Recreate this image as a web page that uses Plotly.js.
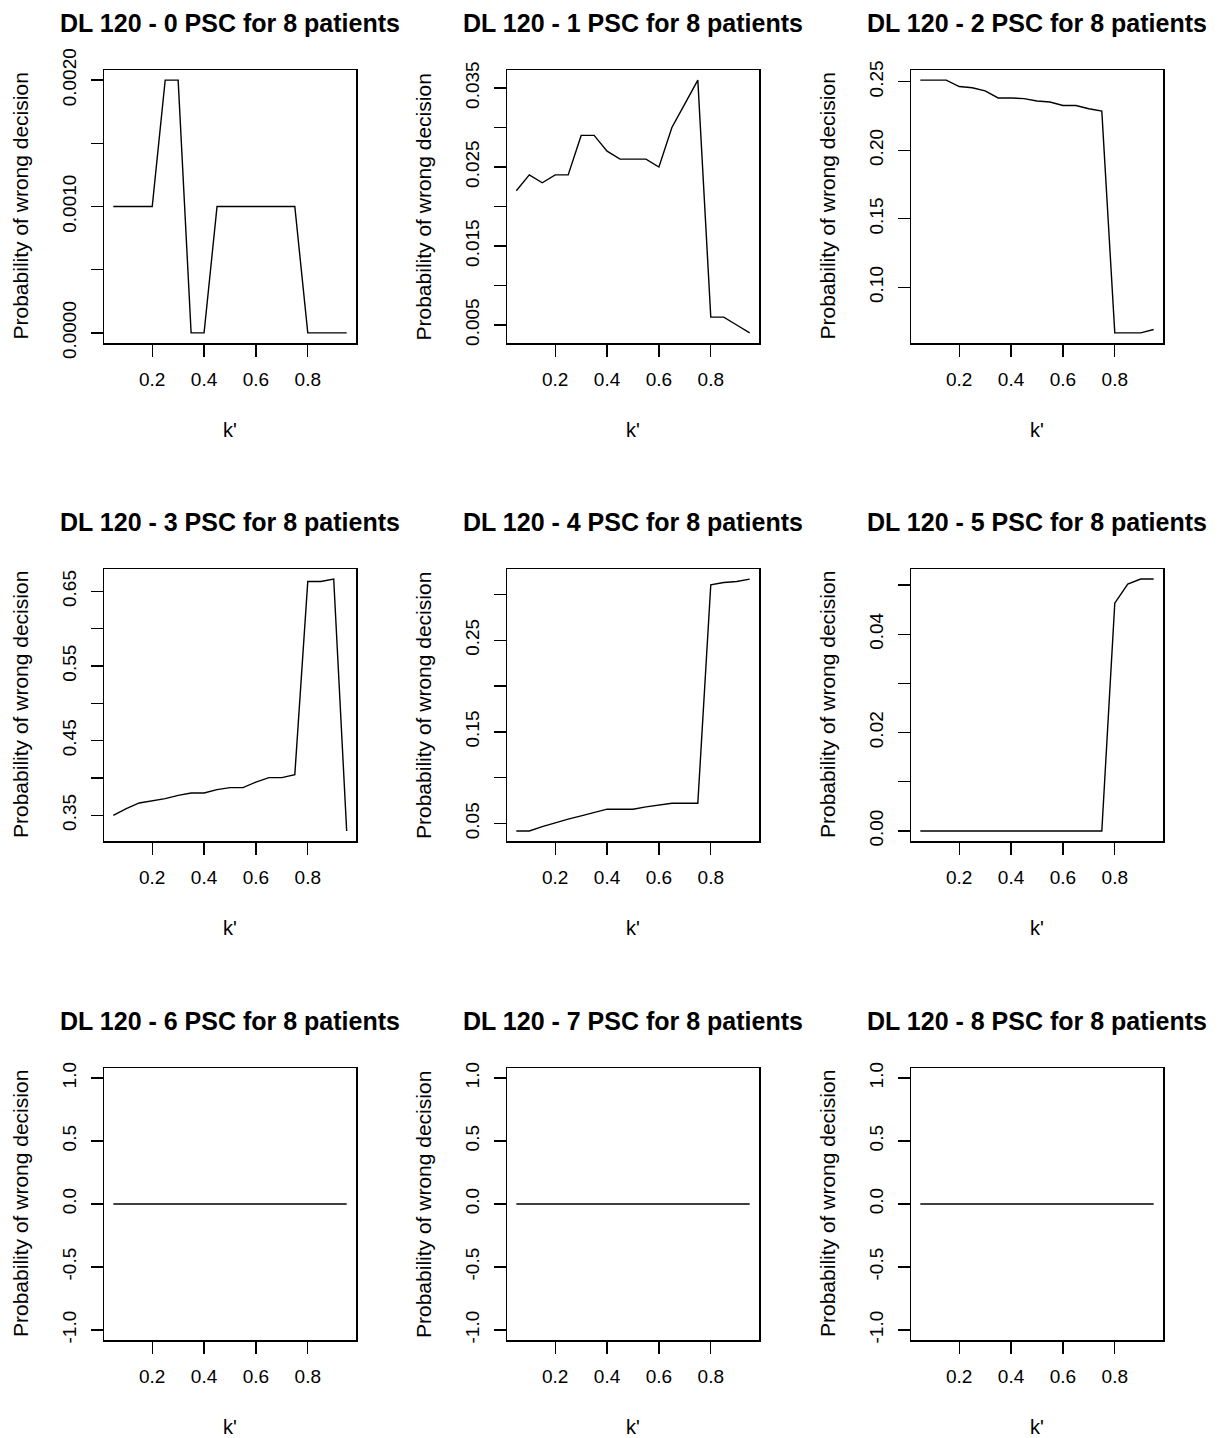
<!DOCTYPE html>
<html>
<head>
<meta charset="utf-8">
<script src="https://cdn.plot.ly/plotly-3.0.1.min.js"></script>
<style>
  html, body { margin: 0; padding: 0; background: #ffffff; }
  #chart { width: 1226px; height: 1438px; }
</style>
</head>
<body>
<div id="chart"></div>
<script>
// ---------------- data ----------------
const kValues = [0.05, 0.10, 0.15, 0.20, 0.25, 0.30, 0.35, 0.40, 0.45, 0.50,
                 0.55, 0.60, 0.65, 0.70, 0.75, 0.80, 0.85, 0.90, 0.95];

const psc0 = [0.001, 0.001, 0.001, 0.001, 0.002, 0.002, 0.000, 0.000, 0.001, 0.001,
              0.001, 0.001, 0.001, 0.001, 0.001, 0.000, 0.000, 0.000, 0.000];
const psc1 = [0.022, 0.024, 0.023, 0.024, 0.024, 0.029, 0.029, 0.027, 0.026, 0.026,
              0.026, 0.025, 0.030, 0.033, 0.036, 0.006, 0.006, 0.005, 0.004];
const psc2 = [0.2512, 0.2512, 0.2512, 0.2465, 0.2456, 0.2434, 0.2382, 0.2382, 0.2377, 0.2360,
              0.2352, 0.2327, 0.2327, 0.2303, 0.2286, 0.0668, 0.0668, 0.0668, 0.0693];
const psc3 = [0.350, 0.359, 0.3665, 0.3692, 0.3723, 0.3767, 0.3798, 0.3798, 0.3843, 0.387,
              0.387, 0.3945, 0.4004, 0.4004, 0.4044, 0.6633, 0.6633, 0.6665, 0.329];
const psc4 = [0.042, 0.042, 0.0467, 0.0511, 0.0548, 0.0584, 0.062, 0.0657, 0.0657, 0.0657,
              0.0682, 0.070, 0.0722, 0.0722, 0.0722, 0.3104, 0.3129, 0.314, 0.3166];
const psc5 = [0, 0, 0, 0, 0, 0, 0, 0, 0, 0,
              0, 0, 0, 0, 0, 0.0463, 0.0502, 0.0512, 0.0512];
const psc6 = [0, 0, 0, 0, 0, 0, 0, 0, 0, 0, 0, 0, 0, 0, 0, 0, 0, 0, 0];
const psc7 = [0, 0, 0, 0, 0, 0, 0, 0, 0, 0, 0, 0, 0, 0, 0, 0, 0, 0, 0];
const psc8 = [0, 0, 0, 0, 0, 0, 0, 0, 0, 0, 0, 0, 0, 0, 0, 0, 0, 0, 0];

const panelTitles = [
  "DL 120 - 0 PSC for 8 patients", "DL 120 - 1 PSC for 8 patients", "DL 120 - 2 PSC for 8 patients",
  "DL 120 - 3 PSC for 8 patients", "DL 120 - 4 PSC for 8 patients", "DL 120 - 5 PSC for 8 patients",
  "DL 120 - 6 PSC for 8 patients", "DL 120 - 7 PSC for 8 patients", "DL 120 - 8 PSC for 8 patients"
];
const xAxisLabel = "k'";
const yAxisLabel = "Probability of wrong decision";

const xTickVals = [0.2, 0.4, 0.6, 0.8];
const xTickText = ["0.2", "0.4", "0.6", "0.8"];

const yTickVals0 = [0, 0.0005, 0.001, 0.0015, 0.002];
const yTickText0 = ["0.0000", "", "0.0010", "", "0.0020"];
const yTickVals1 = [0.005, 0.010, 0.015, 0.020, 0.025, 0.030, 0.035];
const yTickText1 = ["0.005", "", "0.015", "", "0.025", "", "0.035"];
const yTickVals2 = [0.10, 0.15, 0.20, 0.25];
const yTickText2 = ["0.10", "0.15", "0.20", "0.25"];
const yTickVals3 = [0.35, 0.40, 0.45, 0.50, 0.55, 0.60, 0.65];
const yTickText3 = ["0.35", "", "0.45", "", "0.55", "", "0.65"];
const yTickVals4 = [0.05, 0.10, 0.15, 0.20, 0.25, 0.30];
const yTickText4 = ["0.05", "", "0.15", "", "0.25", ""];
const yTickVals5 = [0.00, 0.01, 0.02, 0.03, 0.04, 0.05];
const yTickText5 = ["0.00", "", "0.02", "", "0.04", ""];
const yTickValsFlat = [-1.0, -0.5, 0.0, 0.5, 1.0];
const yTickTextFlat = ["-1.0", "-0.5", "0.0", "0.5", "1.0"];

// ---------------- layout helpers ----------------
const series = [psc0, psc1, psc2, psc3, psc4, psc5, psc6, psc7, psc8];
const yTicks = [
  [yTickVals0, yTickText0], [yTickVals1, yTickText1], [yTickVals2, yTickText2],
  [yTickVals3, yTickText3], [yTickVals4, yTickText4], [yTickVals5, yTickText5],
  [yTickValsFlat, yTickTextFlat], [yTickValsFlat, yTickTextFlat], [yTickValsFlat, yTickTextFlat]
];

const W = 1226, H = 1438;
const colPx = [[104, 356], [507, 759], [911, 1163]];
const rowPx = [[70, 343], [569, 841], [1068, 1340]];

function rRange(vals) {
  let lo = Math.min(...vals), hi = Math.max(...vals);
  if (lo === hi) { lo = lo - 1; hi = hi + 1; }
  const d = (hi - lo) * 0.04;
  return [lo - d, hi + d];
}

const FONT = "Liberation Sans, Arial, Helvetica, sans-serif";
const traces = [];
const layout = {
  width: W, height: H,
  margin: {l: 0, r: 0, t: 0, b: 0},
  paper_bgcolor: "#ffffff",
  plot_bgcolor: "#ffffff",
  showlegend: false,
  font: {family: FONT, color: "#000000", size: 19},
  annotations: []
};

for (let i = 0; i < 9; i++) {
  const r = Math.floor(i / 3), c = i % 3;
  const sfx = i === 0 ? "" : String(i + 1);
  const xd = [colPx[c][0] / W, colPx[c][1] / W];
  const yd = [1 - rowPx[r][1] / H, 1 - rowPx[r][0] / H];

  traces.push({
    type: "scatter", mode: "lines",
    x: kValues, y: series[i],
    xaxis: "x" + sfx, yaxis: "y" + sfx,
    line: {color: "#000000", width: 1.4},
    hoverinfo: "skip"
  });

  const common = {
    showline: true, mirror: true, linecolor: "#000000", linewidth: 1.5,
    showgrid: false, zeroline: false,
    ticks: "outside", ticklen: 12, tickwidth: 1.3, tickcolor: "#000000",
    tickfont: {family: FONT, size: 19, color: "#000000"},
    tickmode: "array", fixedrange: true
  };

  layout["xaxis" + sfx] = Object.assign({}, common, {
    domain: xd, anchor: "y" + sfx,
    range: [0.014, 0.986],
    tickvals: xTickVals, ticktext: xTickText,
    ticklabelstandoff: 7
  });
  layout["yaxis" + sfx] = Object.assign({}, common, {
    domain: yd, anchor: "x" + sfx,
    range: rRange(series[i]),
    tickvals: yTicks[i][0], ticktext: yTicks[i][1],
    tickangle: -90,
    ticklabelstandoff: 7
  });

  const cx = (colPx[c][0] + colPx[c][1]) / 2;
  // panel title
  layout.annotations.push({
    text: "<b>" + panelTitles[i] + "</b>",
    xref: "paper", yref: "paper",
    x: cx / W, y: 1 - (rowPx[r][0] - 47) / H,
    xanchor: "center", yanchor: "middle", showarrow: false,
    font: {family: FONT, size: 25, color: "#000000"}
  });
  // x axis label
  layout.annotations.push({
    text: xAxisLabel,
    xref: "paper", yref: "paper",
    x: cx / W, y: 1 - (rowPx[r][1] + 87) / H,
    xanchor: "center", yanchor: "middle", showarrow: false,
    font: {family: FONT, size: 20, color: "#000000"}
  });
  // y axis label
  const cy = (rowPx[r][0] + rowPx[r][1]) / 2;
  layout.annotations.push({
    text: yAxisLabel,
    xref: "paper", yref: "paper",
    x: (colPx[c][0] - 84) / W, y: 1 - cy / H,
    xanchor: "center", yanchor: "middle", showarrow: false,
    textangle: -90,
    font: {family: FONT, size: 21, color: "#000000"}
  });
}

Plotly.newPlot("chart", traces, layout, {staticPlot: true, displayModeBar: false});
</script>
</body>
</html>
